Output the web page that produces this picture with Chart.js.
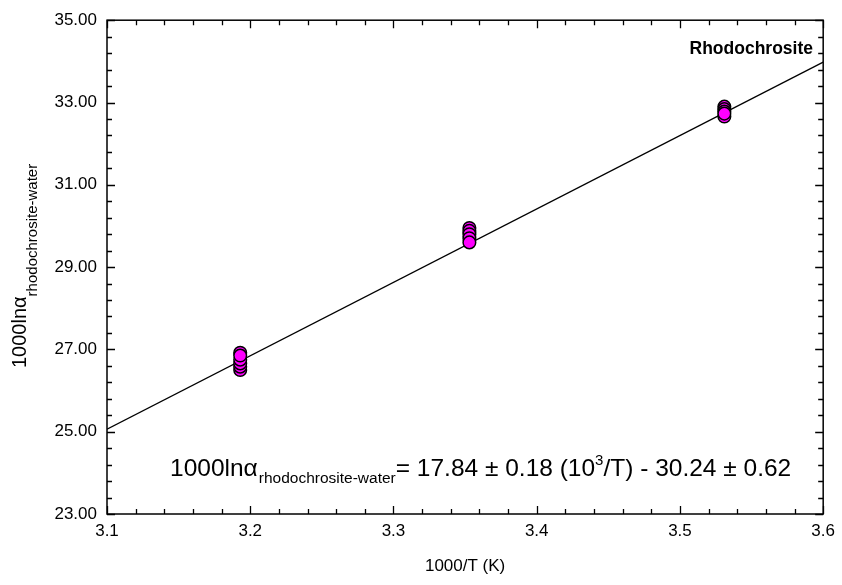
<!DOCTYPE html>
<html lang="en">
<head>
<meta charset="UTF-8">
<title>Rhodochrosite</title>
<script src="https://cdn.jsdelivr.net/npm/chart.js@4.4.1/dist/chart.umd.min.js"></script>
<style>
  body { margin: 0; background: #fff; }
  #chart { display: block; }
</style>
</head>
<body>
<canvas id="chart" width="842" height="585"></canvas>
<script>
// 1000/T (K) of each experiment group and the measured 1000ln(alpha) values
var groupX = [3.193, 3.353, 3.531];
var groupY = [
  [26.50, 26.58, 26.66, 26.75, 26.92, 26.85],
  [29.95, 29.88, 29.80, 29.70, 29.60],
  [32.66, 32.90, 32.84, 32.78, 32.73]
];

// regression line end points
var fitX = [3.1, 3.6];
var fitY = [25.06, 33.98];

var xTicks = [3.1, 3.2, 3.3, 3.4, 3.5, 3.6];
var yTicks = [23, 25, 27, 29, 31, 33, 35];
var xMinorStep = 0.02;
var yMinorStep = 0.4;

var FONT = "'Liberation Sans', Arial, Helvetica, sans-serif";

var points = [];
groupX.forEach(function (x, i) {
  groupY[i].forEach(function (y) { points.push({ x: x, y: y }); });
});
var line = fitX.map(function (x, i) { return { x: x, y: fitY[i] }; });

// frame, inward ticks, titles and the equation
var extras = {
  id: 'extras',
  afterDraw: function (chart) {
    var ctx = chart.ctx;
    var a = chart.chartArea;
    var xs = chart.scales.x, ys = chart.scales.y;
    ctx.save();
    ctx.strokeStyle = '#000';
    ctx.lineWidth = 1.5;
    ctx.strokeRect(a.left, a.top, a.right - a.left, a.bottom - a.top);

    ctx.lineWidth = 1.3;
    ctx.beginPath();
    // x ticks (bottom + top)
    for (var v = xs.min; v <= xs.max + 1e-9; v += xMinorStep) {
      var px = Math.round(xs.getPixelForValue(v)) + 0.5;
      var major = xTicks.some(function (t) { return Math.abs(t - v) < 1e-6; });
      var len = major ? 8 : 5;
      ctx.moveTo(px, a.bottom); ctx.lineTo(px, a.bottom - len);
      ctx.moveTo(px, a.top); ctx.lineTo(px, a.top + len);
    }
    // y ticks (left + right)
    for (var w = ys.min; w <= ys.max + 1e-9; w += yMinorStep) {
      var py = Math.round(ys.getPixelForValue(w)) + 0.5;
      var majorY = yTicks.some(function (t) { return Math.abs(t - w) < 1e-6; });
      var lenY = majorY ? 8 : 5;
      ctx.moveTo(a.left, py); ctx.lineTo(a.left + lenY, py);
      ctx.moveTo(a.right, py); ctx.lineTo(a.right - lenY, py);
    }
    ctx.stroke();

    ctx.fillStyle = '#000';
    ctx.textBaseline = 'alphabetic';

    // x title
    ctx.font = '17px ' + FONT;
    ctx.textAlign = 'center';
    ctx.fillText('1000/T (K)', (a.left + a.right) / 2, 571);

    // y title, rotated
    var m = '1000ln\u03b1';
    ctx.save();
    ctx.translate(26, 368);
    ctx.rotate(-Math.PI / 2);
    ctx.textAlign = 'left';
    ctx.font = '20px ' + FONT;
    ctx.fillText(m, 0, 0);
    var mw = ctx.measureText(m).width;
    ctx.font = '15px ' + FONT;
    ctx.fillText('rhodochrosite-water', mw, 11);
    ctx.restore();

    // label
    ctx.font = 'bold 17.5px ' + FONT;
    ctx.textAlign = 'right';
    ctx.fillText('Rhodochrosite', 813, 54);

    // equation
    ctx.textAlign = 'left';
    var x0 = 170, base = 476;
    ctx.font = '24.5px ' + FONT;
    ctx.fillText(m, x0, base);
    x0 += ctx.measureText(m).width + 1;
    ctx.font = '15.5px ' + FONT;
    ctx.fillText('rhodochrosite-water', x0, base + 7);
    x0 += ctx.measureText('rhodochrosite-water').width;
    ctx.font = '24.5px ' + FONT;
    var s1 = '= 17.84 \u00b1 0.18 (10';
    ctx.fillText(s1, x0, base);
    x0 += ctx.measureText(s1).width;
    ctx.font = '15px ' + FONT;
    ctx.fillText('3', x0, base - 11);
    x0 += ctx.measureText('3').width;
    ctx.font = '24.5px ' + FONT;
    ctx.fillText('/T) - 30.24 \u00b1 0.62', x0, base);

    ctx.restore();
  }
};

var chart = new Chart(document.getElementById('chart').getContext('2d'), {
  type: 'scatter',
  data: {
    datasets: [
      {
        type: 'line',
        data: line,
        borderColor: '#000',
        borderWidth: 1.3,
        pointRadius: 0,
        fill: false,
        order: 2
      },
      {
        data: points,
        pointRadius: 6.3,
        pointBackgroundColor: '#ff00ff',
        pointBorderColor: '#000',
        pointBorderWidth: 1.5,
        order: 1
      }
    ]
  },
  options: {
    responsive: false,
    devicePixelRatio: 1,
    animation: false,
    layout: { padding: { top: 12, right: 15, left: 0, bottom: 0 } },
    plugins: { legend: { display: false }, tooltip: { enabled: false } },
    scales: {
      x: {
        type: 'linear',
        min: 3.1,
        max: 3.6,
        grid: { display: false, drawTicks: false },
        border: { display: false },
        afterBuildTicks: function (s) { s.ticks = xTicks.map(function (v) { return { value: v }; }); },
        afterFit: function (s) { s.height = 71; },
        ticks: {
          autoSkip: false,
          maxRotation: 0,
          padding: 7,
          color: '#000',
          font: { family: FONT, size: 17 },
          callback: function (v) { return v.toFixed(1); }
        }
      },
      y: {
        min: 23,
        max: 35,
        grid: { display: false, drawTicks: false },
        border: { display: false },
        afterBuildTicks: function (s) { s.ticks = yTicks.map(function (v) { return { value: v }; }); },
        afterFit: function (s) { s.width = 107; },
        ticks: {
          autoSkip: false,
          padding: 10,
          color: '#000',
          font: { family: FONT, size: 17 },
          callback: function (v) { return v.toFixed(2); }
        }
      }
    }
  },
  plugins: [extras]
});
</script>
</body>
</html>
